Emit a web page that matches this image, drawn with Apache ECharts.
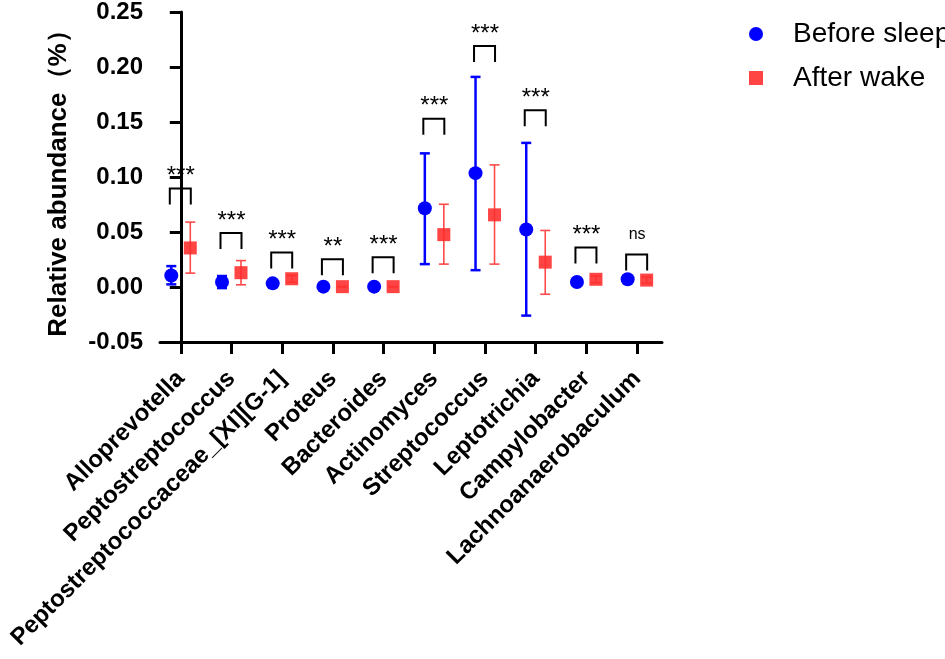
<!DOCTYPE html>
<html>
<head>
<meta charset="utf-8">
<script src="https://cdn.jsdelivr.net/npm/echarts@6/dist/echarts.min.js"></script>
<style>
  html, body { margin: 0; padding: 0; background: #fff; }
  #chart { width: 945px; height: 659px; }
</style>
</head>
<body>
<div id="chart"></div>
<script>
const genera = [
  "Alloprevotella", "Peptostreptococcus", "Peptostreptococcaceae_[XI][G-1]",
  "Proteus", "Bacteroides", "Actinomyces", "Streptococcus", "Leptotrichia",
  "Campylobacter", "Lachnoanaerobaculum",
];

// mean, lower and upper end of the error bar
const beforeMean = [0.0105, 0.0045, 0.0033, 0.0003, 0.0003, 0.0716, 0.1035, 0.0523, 0.0045, 0.0070];
const beforeLow  = [0.0024, -0.001, 0.0025, 0.0000, 0.0000, 0.0208, 0.0153, -0.026, 0.0030, 0.0050];
const beforeHigh = [0.0190, 0.0100, 0.0040, 0.0006, 0.0006, 0.1215, 0.1910, 0.1310, 0.0060, 0.0090];

const afterMean = [0.0355, 0.0130, 0.0075, 0.0003, 0.0003, 0.0476, 0.0656, 0.0226, 0.0070, 0.0063];
const afterLow  = [0.0126, 0.0020, 0.0045, 0.0000, 0.0000, 0.0208, 0.0208, -0.0066, 0.0040, 0.0035];
const afterHigh = [0.0590, 0.0240, 0.0105, 0.0006, 0.0006, 0.0752, 0.1110, 0.0514, 0.0100, 0.0090];

// significance brackets: top of bracket and label
const bracketTop = [0.0896, 0.0490, 0.0313, 0.0253, 0.0271, 0.1530, 0.2190, 0.1606, 0.0358, 0.0295];
const sigLabels = ["***", "***", "***", "**", "***", "***", "***", "***", "***", "ns"];

const yTicks = [-0.05, 0, 0.05, 0.1, 0.15, 0.2, 0.25];

const BLUE = "#0000ff";
const RED = "#ff3030";
const FONT = "'Liberation Sans', Arial, sans-serif";
const SHIFT = 9.5;

const chart = echarts.init(document.getElementById("chart"));
const idx = genera.map((_, i) => i);

function errorBars(offset, color, width) {
  return function (params, api) {
    const i = api.value(0);
    const lo = api.coord([i, api.value(1)]);
    const hi = api.coord([i, api.value(2)]);
    const x = lo[0] + offset;
    const cap = 5;
    const style = { stroke: color, lineWidth: width };
    return {
      type: "group",
      children: [
        { type: "line", shape: { x1: x, y1: lo[1], x2: x, y2: hi[1] }, style },
        { type: "line", shape: { x1: x - cap, y1: lo[1], x2: x + cap, y2: lo[1] }, style },
        { type: "line", shape: { x1: x - cap, y1: hi[1], x2: x + cap, y2: hi[1] }, style },
      ],
    };
  };
}

function renderBracket(params, api) {
  const i = api.value(0);
  const p = api.coord([i, api.value(1)]);
  const label = sigLabels[params.dataIndex];
  const isNs = label === "ns";
  const leg = 16;
  return {
    type: "group",
    children: [
      {
        type: "polyline",
        shape: { points: [[p[0] - 11, p[1] + leg], [p[0] - 11, p[1]], [p[0] + 10, p[1]], [p[0] + 10, p[1] + leg]] },
        style: { stroke: "#000", lineWidth: 2, fill: "none" },
      },
      {
        type: "text",
        x: p[0],
        y: p[1] - (isNs ? 12 : 0),
        style: {
          text: label,
          fill: "#000",
          font: (isNs ? "16px " : "24px ") + FONT,
          align: "center",
          verticalAlign: "bottom",
        },
      },
    ],
  };
}

chart.setOption({
  animation: false,
  legend: {
    orient: "vertical",
    left: 744,
    top: 15,
    itemWidth: 14,
    itemHeight: 14,
    itemGap: 16,
    data: ["Before sleep", "After wake"],
    textStyle: { fontFamily: FONT, fontSize: 28, color: "#000", padding: [0, 0, 0, 25] },
  },
  grid: { left: 160, right: 283, top: 10, bottom: 317, containLabel: false },
  xAxis: {
    type: "value",
    min: -0.41,
    max: 9.49,
    splitLine: { show: false },
    axisLine: { show: true, onZero: false, lineStyle: { color: "#000", width: 3 } },
    axisTick: { show: true, customValues: idx, length: 12, lineStyle: { color: "#000", width: 3 } },
    axisLabel: {
      customValues: idx,
      rotate: 45,
      margin: 33,
      color: "#000",
      fontFamily: FONT,
      fontWeight: "bold",
      fontSize: 24,
      formatter: (v) => genera[Math.round(v)],
    },
  },
  yAxis: {
    type: "value",
    min: -0.05,
    max: 0.25,
    interval: 0.05,
    name: "Relative abundance\uFF08%\uFF09",
    nameLocation: "middle",
    nameGap: 88,
    nameTextStyle: { color: "#000", fontFamily: FONT, fontWeight: "bold", fontSize: 26 },
    splitLine: { show: false },
    axisLine: { show: true, lineStyle: { color: "#000", width: 3 } },
    axisTick: { show: true, length: 11, lineStyle: { color: "#000", width: 3 } },
    axisLabel: {
      customValues: yTicks,
      margin: 17,
      color: "#000",
      fontFamily: FONT,
      fontWeight: "bold",
      fontSize: 24,
      formatter: (v) => v.toFixed(2),
    },
  },
  series: [
    {
      name: "Before sleep err",
      type: "custom",
      renderItem: errorBars(-SHIFT, BLUE, 2.5),
      encode: { x: 0, y: [1, 2] },
      data: idx.map((i) => [i, beforeLow[i], beforeHigh[i]]),
      z: 2,
    },
    {
      name: "After wake err",
      type: "custom",
      renderItem: errorBars(SHIFT, "#ff4a4a", 1.6),
      encode: { x: 0, y: [1, 2] },
      data: idx.map((i) => [i, afterLow[i], afterHigh[i]]),
      z: 2,
    },
    {
      name: "Before sleep",
      type: "scatter",
      symbol: "circle",
      symbolSize: 14,
      symbolOffset: [-SHIFT, 0],
      itemStyle: { color: BLUE, opacity: 1 },
      data: idx.map((i) => [i, beforeMean[i]]),
      z: 3,
    },
    {
      name: "After wake",
      type: "scatter",
      symbol: "rect",
      symbolSize: 13,
      symbolOffset: [SHIFT, 0],
      itemStyle: { color: RED, opacity: 0.9 },
      data: idx.map((i) => [i, afterMean[i]]),
      z: 3,
    },
    {
      name: "sig",
      type: "custom",
      renderItem: renderBracket,
      encode: { x: 0, y: 1 },
      data: idx.map((i) => [i, bracketTop[i]]),
      z: 4,
    },
  ],
});
</script>
</body>
</html>
